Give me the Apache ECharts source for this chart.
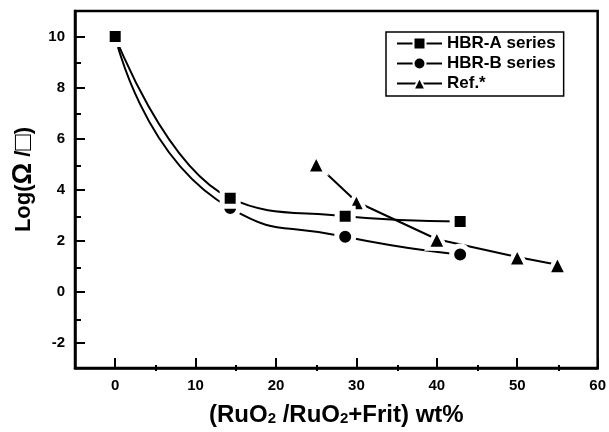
<!DOCTYPE html>
<html>
<head>
<meta charset="utf-8">
<script src="https://cdn.jsdelivr.net/npm/echarts@6/dist/echarts.min.js"></script>
<style>
  html, body { margin: 0; padding: 0; background: #fff; }
  #chart { width: 609px; height: 432px; }
</style>
</head>
<body>
<div id="chart"></div>
<script>
// data
const seriesNames = ['HBR-A series', 'HBR-B series', 'Ref.*']
const hbrAX = [0, 14.3, 28.6, 42.9]
const hbrAY = [10, 3.66, 2.95, 2.75]
const hbrBX = [0, 14.3, 28.6, 42.9]
const hbrBY = [10, 3.27, 2.15, 1.45]
const refX = [25, 30, 40, 50, 55]
const refY = [5, 3.52, 2.05, 1.35, 1.05]
const xTicks = [0, 10, 20, 30, 40, 50, 60]
const xMinorTicks = [5, 15, 25, 35, 45, 55]
const yTicks = [-2, 0, 2, 4, 6, 8, 10]
const yMinorTicks = [-1, 1, 3, 5, 7, 9]

const font = 'Arial, "Liberation Sans", sans-serif'

function pairs(xs, ys) {
    return xs.map((x, i) => [x, ys[i]])
}

let chart = echarts.init(document.getElementById('chart'))

function baseAxis(extra) {
    return Object.assign({
        type: 'value',
        splitLine: { show: false },
        axisLine: { show: true, onZero: false, lineStyle: { color: '#000', width: 2.5 } }
    }, extra)
}

let labelStyle = { fontFamily: font, fontWeight: 'bold', fontSize: 15, color: '#000' }
let titleStyle = { fontFamily: font, fontWeight: 'bold', fontSize: 24, color: '#000' }
let plotRect = { left: 75, right: 10, top: 11, bottom: 61 }

let option = {
    animation: false,
    backgroundColor: '#fff',
    grid: [
        Object.assign({ show: true, borderColor: '#000', borderWidth: 2.5 }, plotRect),
        // second grid on the same rect only carries the minor ticks
        Object.assign({ show: false }, plotRect)
    ],
    legend: {
        orient: 'vertical',
        left: 386,
        top: 32,
        padding: [3, 8, 4, 10],
        itemGap: 3,
        itemWidth: 45,
        itemHeight: 15,
        borderColor: '#000',
        borderWidth: 1.5,
        itemStyle: { borderWidth: 2 },
        textStyle: { fontFamily: font, fontWeight: 'bold', fontSize: 17, color: '#000' },
        data: seriesNames
    },
    xAxis: [
        baseAxis({
            min: -5,
            max: 60,
            interval: 5,
            name: '(RuO{s|2} /RuO{s|2}+Frit) wt%',
            nameLocation: 'middle',
            nameGap: 35,
            nameTextStyle: Object.assign({}, titleStyle, {
                rich: { s: { fontFamily: font, fontWeight: 'bold', fontSize: 15, color: '#000', padding: [8, 0, 0, 0] } }
            }),
            axisTick: { inside: true, length: 10, lineStyle: { color: '#000', width: 2 }, customValues: xTicks },
            axisLabel: Object.assign({ margin: 10, customValues: xTicks }, labelStyle)
        }),
        baseAxis({
            gridIndex: 1,
            min: -5,
            max: 60,
            interval: 5,
            axisLine: { show: false, onZero: false },
            axisTick: { inside: true, length: 6, lineStyle: { color: '#000', width: 2 }, customValues: xMinorTicks },
            axisLabel: { show: false }
        })
    ],
    yAxis: [
        baseAxis({
            min: -3,
            max: 11,
            interval: 1,
            name: 'Log({b|Ω} /{b|□})',
            nameLocation: 'middle',
            nameGap: 33,
            nameTextStyle: Object.assign({}, titleStyle, {
                fontSize: 22,
                padding: [0, 0, 0, 20],
                rich: { b: { fontFamily: font, fontWeight: 'bold', fontSize: 27, color: '#000' } }
            }),
            axisTick: { inside: true, length: 10, lineStyle: { color: '#000', width: 2 }, customValues: yTicks },
            axisLabel: Object.assign({ margin: 10, customValues: yTicks }, labelStyle)
        }),
        baseAxis({
            gridIndex: 1,
            min: -3,
            max: 11,
            interval: 1,
            axisLine: { show: false, onZero: false },
            axisTick: { inside: true, length: 6, lineStyle: { color: '#000', width: 2 }, customValues: yMinorTicks },
            axisLabel: { show: false }
        })
    ],
    series: [
        {
            name: seriesNames[1],
            type: 'line',
            smooth: 0.6,
            symbol: 'circle',
            symbolSize: 17,
            z: 2,
            data: pairs(hbrBX, hbrBY),
            lineStyle: { color: '#000', width: 2 },
            itemStyle: { color: '#000', borderColor: '#fff', borderWidth: 5 }
        },
        {
            name: seriesNames[0],
            type: 'line',
            smooth: 0.45,
            symbol: 'rect',
            symbolSize: 16,
            z: 3,
            data: pairs(hbrAX, hbrAY),
            lineStyle: { color: '#000', width: 2 },
            itemStyle: { color: '#000', borderColor: '#fff', borderWidth: 5 }
        },
        {
            name: seriesNames[2],
            type: 'line',
            symbol: 'triangle',
            symbolSize: 19,
            z: 2,
            data: pairs(refX, refY),
            lineStyle: { color: '#000', width: 2 },
            itemStyle: { color: '#000', borderColor: '#fff', borderWidth: 4 }
        }
    ]
}

chart.setOption(option)
</script>
</body>
</html>
